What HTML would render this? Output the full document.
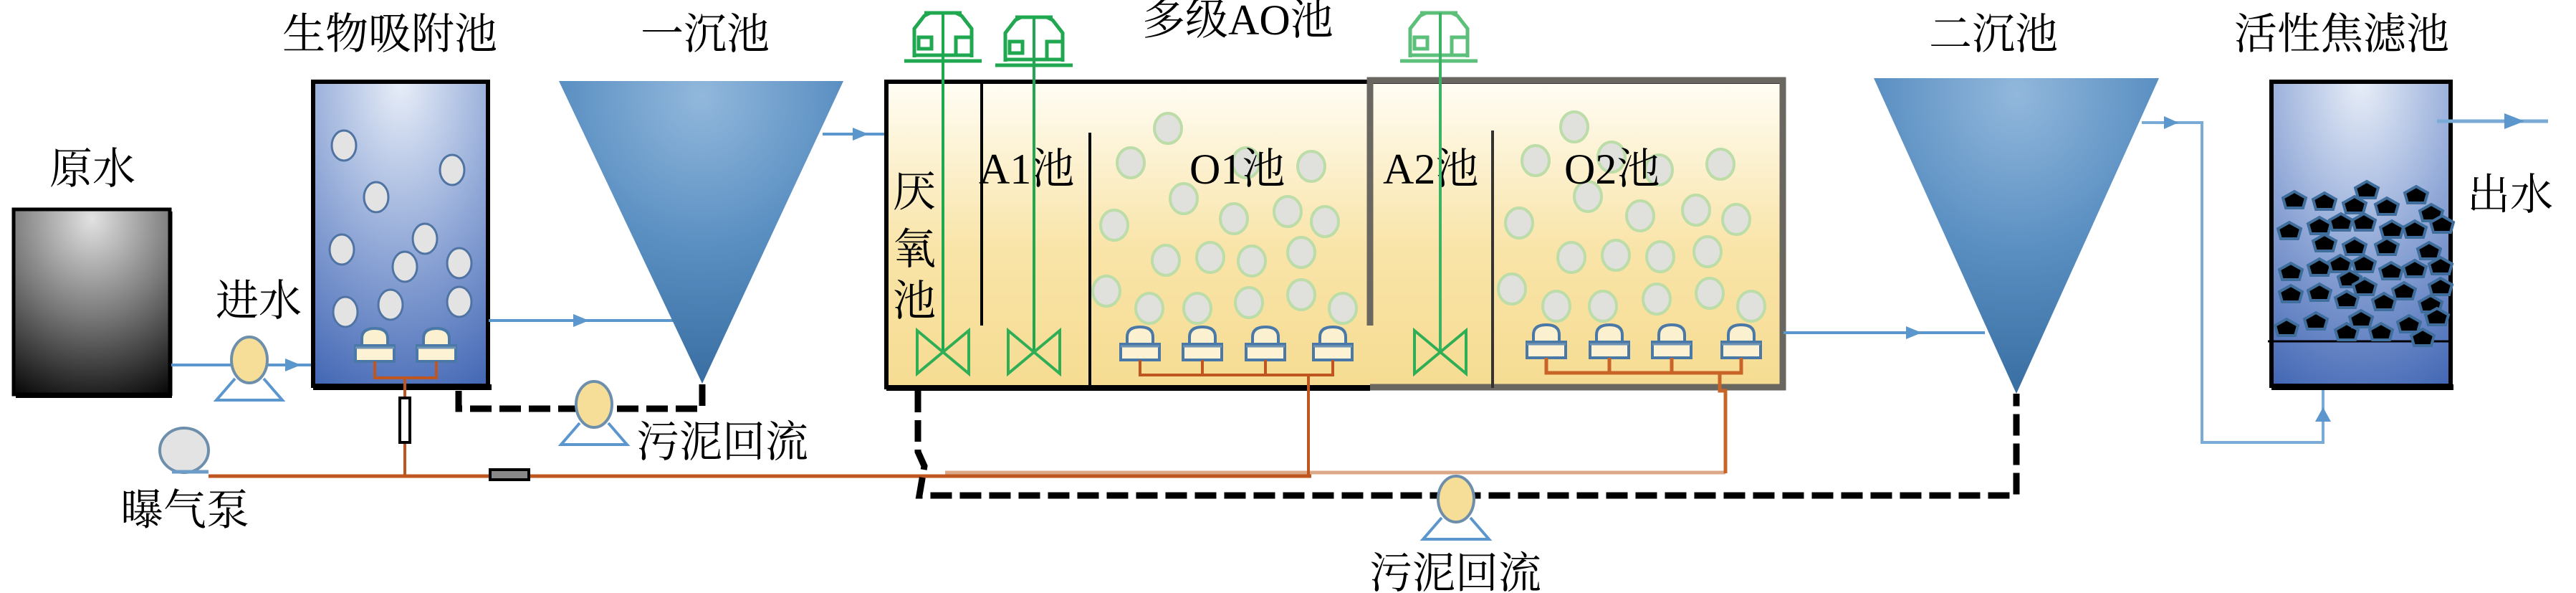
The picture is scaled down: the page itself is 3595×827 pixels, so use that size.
<!DOCTYPE html>
<html><head><meta charset="utf-8"><style>
html,body{margin:0;padding:0;background:#fff}
svg{display:block}
text{font-family:"Liberation Serif","Noto Serif CJK SC",serif;fill:#000}
</style></head><body>
<svg width="3595" height="827" viewBox="0 0 3595 827" xmlns="http://www.w3.org/2000/svg">
<defs>
<radialGradient id="raw" cx="0.5" cy="0.05" r="1.05">
<stop offset="0" stop-color="#e2e2e2"/><stop offset="0.5" stop-color="#7a7a7a"/><stop offset="1" stop-color="#0a0a0a"/></radialGradient>
<radialGradient id="bio" cx="0.5" cy="0" r="1.1">
<stop offset="0" stop-color="#e8eef8"/><stop offset="0.5" stop-color="#93aad8"/><stop offset="1" stop-color="#4468b5"/></radialGradient>
<linearGradient id="ao" x1="0" y1="0" x2="0" y2="1">
<stop offset="0" stop-color="#fffdf4"/><stop offset="0.55" stop-color="#f9e4a8"/><stop offset="1" stop-color="#f6dc92"/></linearGradient>
<radialGradient id="cone" cx="0.5" cy="0.05" r="1">
<stop offset="0" stop-color="#92b8dc"/><stop offset="0.5" stop-color="#5a8fc2"/><stop offset="1" stop-color="#356a9e"/></radialGradient>
<g id="mixer" fill="none" stroke-width="5">
<path d="M-40,80 L-40,40 L-26,22 L-18,18 L18,18 L26,22 L40,40 L40,80"/>
<line x1="-26" y1="18" x2="26" y2="18"/>
<line x1="-40" y1="77" x2="40" y2="77"/>
<line x1="-54" y1="85" x2="54" y2="85"/>
<rect x="-34" y="52" width="18" height="16"/>
<path d="M18,77 L18,52 L40,52"/>
</g>
<g id="valve" fill="none" stroke="#2fae55" stroke-width="4">
<path d="M-36,0 L36,60 L36,0 L-36,60 Z"/>
</g>
<g id="diff">
<path d="M-18,24 L-18,14 Q-18,0 0,0 Q18,0 18,14 L18,24" fill="#fbf0cf" stroke="#4a79a8" stroke-width="4"/>
<rect x="-27" y="24" width="54" height="22" fill="#fdf3d4" stroke="#4a79a8" stroke-width="4"/>
<line x1="-27" y1="27" x2="27" y2="27" stroke="#6f93b5" stroke-width="3"/>
</g>
<g id="pump">
<path d="M-20,26 L-46,56 L46,56 L20,26" fill="none" stroke="#5b96cc" stroke-width="4"/>
<ellipse cx="0" cy="0" rx="25" ry="32" fill="#f7de98" stroke="#6d8fab" stroke-width="4"/>
</g>
<g id="bub"><ellipse rx="17" ry="21" fill="#e3e3e3" stroke="#4f74a3" stroke-width="3"/></g>
<g id="gb"><ellipse rx="19" ry="21" fill="#e0e0dc" stroke="#bcdca8" stroke-width="4"/></g>
<g id="coke"><path d="M-16,-4 L0,-13 L16,-4 L12,10 L-12,10 Z" fill="#000" stroke="#3f6e9c" stroke-width="4"/></g>
</defs>

<g font-size="60">
<text x="394" y="68">生物吸附池</text>
<text x="894" y="68">一沉池</text>
<text x="1594" y="48">多级AO池</text>
<text x="2692" y="68">二沉池</text>
<text x="3118" y="68">活性焦滤池</text>
<text x="69" y="256">原水</text>
<text x="301" y="440">进水</text>
<text x="168" y="732">曝气泵</text>
<text x="888" y="637">污泥回流</text>
<text x="1911" y="820">污泥回流</text>
<text x="3443" y="292">出水</text>
</g>

<rect x="19" y="292" width="218" height="258" fill="url(#raw)" stroke="#000" stroke-width="5"/>
<line x1="22" y1="552" x2="240" y2="552" stroke="#000" stroke-width="6"/>
<line x1="238" y1="295" x2="238" y2="552" stroke="#000" stroke-width="5"/>

<line x1="239" y1="509" x2="437" y2="509" stroke="#5b96cc" stroke-width="4"/>
<polygon points="398,500 420,509 398,518" fill="#5b96cc"/>
<use href="#pump" x="348" y="502"/>

<rect x="437" y="114" width="244" height="424" fill="url(#bio)" stroke="#000" stroke-width="6"/>
<line x1="437" y1="540" x2="686" y2="540" stroke="#000" stroke-width="8"/>
<use href="#bub" x="480" y="203"/><use href="#bub" x="631" y="237"/><use href="#bub" x="525" y="275"/>
<use href="#bub" x="593" y="333"/><use href="#bub" x="477" y="348"/><use href="#bub" x="565" y="372"/>
<use href="#bub" x="641" y="367"/><use href="#bub" x="482" y="435"/><use href="#bub" x="545" y="425"/>
<use href="#bub" x="641" y="421"/>
<use href="#diff" x="523" y="458"/><use href="#diff" x="609" y="458"/>
<path d="M523,504 L523,527 L609,527 L609,504 M565,527 L565,663" fill="none" stroke="#c0561f" stroke-width="4"/>
<rect x="558" y="555" width="14" height="62" fill="#fff" stroke="#000" stroke-width="4"/>

<line x1="291" y1="664" x2="1830" y2="664" stroke="#c0561f" stroke-width="5"/>
<line x1="1319" y1="659" x2="2408" y2="659" stroke="#dba888" stroke-width="5"/>
<rect x="684" y="655" width="54" height="14" fill="#888" stroke="#000" stroke-width="4"/>
<ellipse cx="257" cy="628" rx="34" ry="31" fill="#e3e3e3" stroke="#6d8fab" stroke-width="4"/>
<line x1="240" y1="658" x2="291" y2="658" stroke="#6d9cc8" stroke-width="5"/>

<line x1="682" y1="447" x2="944" y2="447" stroke="#5b96cc" stroke-width="4"/>
<polygon points="800,438 822,447 800,456" fill="#5b96cc"/>

<polygon points="780,113 1177,113 980,535" fill="url(#cone)"/>
<line x1="1148" y1="187" x2="1237" y2="187" stroke="#5b96cc" stroke-width="4"/>
<polygon points="1190,178 1212,187 1190,196" fill="#5b96cc"/>

<path d="M640,545 L640,570 L980,570 L980,535" fill="none" stroke="#000" stroke-width="9" stroke-dasharray="30,11"/>
<use href="#pump" x="829" y="564"/>

<rect x="1237" y="114" width="1252" height="426" fill="url(#ao)" stroke="#000" stroke-width="6"/>
<path d="M1912,454 L1912,112 L2488,112 L2488,540 L1912,540" fill="none" stroke="#6a6660" stroke-width="9"/>
<line x1="1237" y1="541" x2="1912" y2="541" stroke="#000" stroke-width="8"/>
<line x1="1370" y1="116" x2="1370" y2="454" stroke="#000" stroke-width="4"/>
<line x1="1521" y1="185" x2="1521" y2="537" stroke="#000" stroke-width="4"/>
<line x1="2083" y1="182" x2="2083" y2="541" stroke="#333" stroke-width="4"/>

<g>
<use href="#gb" x="1630" y="179"/><use href="#gb" x="1578" y="227"/><use href="#gb" x="1830" y="232"/>
<use href="#gb" x="1652" y="277"/><use href="#gb" x="1722" y="305"/><use href="#gb" x="1797" y="295"/>
<use href="#gb" x="1849" y="309"/><use href="#gb" x="1555" y="314"/><use href="#gb" x="1627" y="363"/>
<use href="#gb" x="1689" y="359"/><use href="#gb" x="1747" y="364"/><use href="#gb" x="1816" y="352"/>
<use href="#gb" x="1544" y="406"/><use href="#gb" x="1604" y="430"/><use href="#gb" x="1671" y="430"/>
<use href="#gb" x="1743" y="422"/><use href="#gb" x="1816" y="411"/><use href="#gb" x="1874" y="430"/>
<use href="#gb" x="1739" y="227"/>
</g>
<g>
<use href="#gb" x="2197" y="177"/><use href="#gb" x="2143" y="224"/><use href="#gb" x="2249" y="219"/>
<use href="#gb" x="2315" y="237"/><use href="#gb" x="2401" y="229"/><use href="#gb" x="2216" y="274"/>
<use href="#gb" x="2289" y="301"/><use href="#gb" x="2367" y="293"/><use href="#gb" x="2423" y="306"/>
<use href="#gb" x="2120" y="311"/><use href="#gb" x="2193" y="359"/><use href="#gb" x="2255" y="356"/>
<use href="#gb" x="2317" y="358"/><use href="#gb" x="2383" y="351"/><use href="#gb" x="2110" y="403"/>
<use href="#gb" x="2172" y="427"/><use href="#gb" x="2237" y="427"/><use href="#gb" x="2312" y="417"/>
<use href="#gb" x="2386" y="409"/><use href="#gb" x="2444" y="427"/>
</g>

<g font-size="60">
<text x="1246" y="288">厌</text>
<text x="1246" y="368">氧</text>
<text x="1246" y="440">池</text>
<text x="1366" y="256">A1池</text>
<text x="1660" y="256">O1池</text>
<text x="1930" y="256">A2池</text>
<text x="2183" y="256">O2池</text>
</g>

<use href="#mixer" x="1316" y="0" stroke="#1fa84f"/>
<use href="#mixer" x="1443" y="6" stroke="#1fa84f"/>
<use href="#mixer" x="2008" y="0" stroke="#5cbf7a"/>
<line x1="1316" y1="18" x2="1316" y2="490" stroke="#1fa84f" stroke-width="4"/>
<line x1="1443" y1="24" x2="1443" y2="490" stroke="#1fa84f" stroke-width="4"/>
<line x1="2010" y1="18" x2="2010" y2="490" stroke="#3cb265" stroke-width="4"/>
<use href="#valve" x="1316" y="461"/>
<use href="#valve" x="1443" y="461"/>
<use href="#valve" x="2010" y="461"/>

<use href="#diff" x="1591" y="456"/><use href="#diff" x="1678" y="456"/>
<use href="#diff" x="1766" y="456"/><use href="#diff" x="1860" y="456"/>
<path d="M1591,502 L1591,523 L1860,523 L1860,502 M1678,502 L1678,523 M1766,502 L1766,523 M1826,523 L1826,664" fill="none" stroke="#c0561f" stroke-width="4"/>
<use href="#diff" x="2158" y="453"/><use href="#diff" x="2246" y="453"/>
<use href="#diff" x="2333" y="453"/><use href="#diff" x="2430" y="453"/>
<path d="M2158,499 L2158,520 L2430,520 L2430,499 M2246,499 L2246,520 M2333,499 L2333,520 M2400,520 L2400,545 L2408,545 L2408,660" fill="none" stroke="#c96428" stroke-width="5"/>

<path d="M1281,545 L1281,630 L1290,650 L1283,691 L2814,691 L2814,549" fill="none" stroke="#000" stroke-width="9" stroke-dasharray="30,11"/>
<use href="#pump" x="2032" y="696"/>

<line x1="2489" y1="464" x2="2770" y2="464" stroke="#5b96cc" stroke-width="4"/>
<polygon points="2660,455 2682,464 2660,473" fill="#5b96cc"/>

<polygon points="2615,109 3013,109 2814,549" fill="url(#cone)"/>

<path d="M2989,171 L3073,171 L3073,617 L3242,617 L3242,541" fill="none" stroke="#7aaad6" stroke-width="4"/>
<polygon points="3020,162 3040,171 3020,180" fill="#5b96cc"/>
<polygon points="3231,588 3242,568 3253,588" fill="#5b96cc"/>

<rect x="3170" y="114" width="250" height="424" fill="url(#bio)" stroke="#000" stroke-width="6"/>
<line x1="3170" y1="540" x2="3424" y2="540" stroke="#000" stroke-width="8"/>
<line x1="3165" y1="476" x2="3420" y2="476" stroke="#000" stroke-width="3"/>
<g>
<use href="#coke" x="3202" y="280"/><use href="#coke" x="3244" y="282"/><use href="#coke" x="3286" y="287"/>
<use href="#coke" x="3303" y="266"/><use href="#coke" x="3331" y="289"/><use href="#coke" x="3372" y="273"/>
<use href="#coke" x="3393" y="298"/><use href="#coke" x="3408" y="314"/><use href="#coke" x="3195" y="323"/>
<use href="#coke" x="3237" y="316"/><use href="#coke" x="3267" y="311"/><use href="#coke" x="3299" y="311"/>
<use href="#coke" x="3338" y="321"/><use href="#coke" x="3370" y="321"/><use href="#coke" x="3244" y="340"/>
<use href="#coke" x="3286" y="345"/><use href="#coke" x="3331" y="345"/><use href="#coke" x="3390" y="351"/>
<use href="#coke" x="3197" y="380"/><use href="#coke" x="3237" y="374"/><use href="#coke" x="3266" y="369"/>
<use href="#coke" x="3299" y="369"/><use href="#coke" x="3337" y="379"/><use href="#coke" x="3370" y="376"/>
<use href="#coke" x="3406" y="372"/><use href="#coke" x="3279" y="390"/><use href="#coke" x="3197" y="411"/>
<use href="#coke" x="3237" y="409"/><use href="#coke" x="3275" y="419"/><use href="#coke" x="3300" y="401"/>
<use href="#coke" x="3327" y="422"/><use href="#coke" x="3355" y="407"/><use href="#coke" x="3406" y="401"/>
<use href="#coke" x="3392" y="425"/><use href="#coke" x="3191" y="458"/><use href="#coke" x="3232" y="449"/>
<use href="#coke" x="3275" y="464"/><use href="#coke" x="3295" y="446"/><use href="#coke" x="3323" y="464"/>
<use href="#coke" x="3362" y="453"/><use href="#coke" x="3401" y="443"/><use href="#coke" x="3381" y="472"/>
</g>
<line x1="3401" y1="169" x2="3556" y2="169" stroke="#7aaad6" stroke-width="5"/>
<polygon points="3495,158 3523,169 3495,180" fill="#5b96cc"/>
</svg>
</body></html>
